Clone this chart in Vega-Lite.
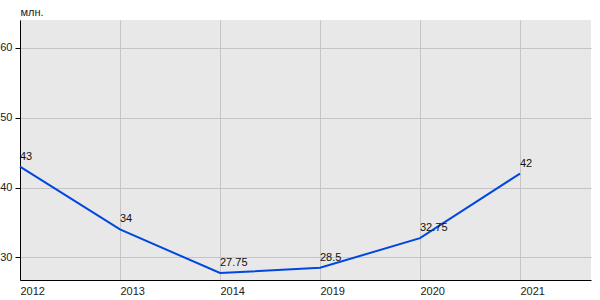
{
  "$schema": "https://vega.github.io/schema/vega-lite/v6.json",
  "width": 571,
  "height": 260,
  "autosize": {"type": "none"},
  "padding": {"left": 20, "top": 20, "right": 9, "bottom": 20},
  "background": "white",
  "config": {
    "view": {"fill": "#e8e8e8", "stroke": null},
    "font": "Liberation Sans",
    "axis": {"labelFont": "Liberation Sans", "labelFontSize": 11, "labelColor": "#222", "gridColor": "#c4c4c4", "gridOpacity": 1, "domainColor": "#000", "tickColor": "#000"}
  },
  "data": {"values": [
    {"year": "2012", "value": 43, "label": "43"},
    {"year": "2013", "value": 34, "label": "34"},
    {"year": "2014", "value": 27.75, "label": "27.75"},
    {"year": "2019", "value": 28.5, "label": "28.5"},
    {"year": "2020", "value": 32.75, "label": "32.75"},
    {"year": "2021", "value": 42, "label": "42"}
  ]},
  "encoding": {
    "x": {"field": "year", "type": "ordinal", "sort": null,
      "scale": {"type": "point", "padding": 0.355, "align": 0},
      "axis": {"title": null, "labelAngle": 0, "labelAlign": "left", "ticks": false, "labelPadding": 5, "grid": true, "domainWidth": 1}},
    "y": {"field": "value", "type": "quantitative",
      "scale": {"domain": [26.75, 64], "nice": false, "zero": false},
      "axis": {"title": "млн.", "titleAngle": 0, "titleX": 0, "titleY": -3, "titleAlign": "left", "titleBaseline": "bottom", "titleFontWeight": "normal", "titleFontSize": 11, "titleColor": "#222", "titleFont": "Liberation Sans", "values": [30, 40, 50, 60], "tickSize": 5, "labelPadding": 3, "grid": true}}
  },
  "layer": [
    {"mark": {"type": "line", "color": "#0047e0", "strokeWidth": 2}},
    {"mark": {"type": "text", "align": "left", "baseline": "bottom", "dy": -5, "fontSize": 11, "color": "#111", "font": "Liberation Sans"},
      "encoding": {"text": {"field": "label"}}}
  ]
}
